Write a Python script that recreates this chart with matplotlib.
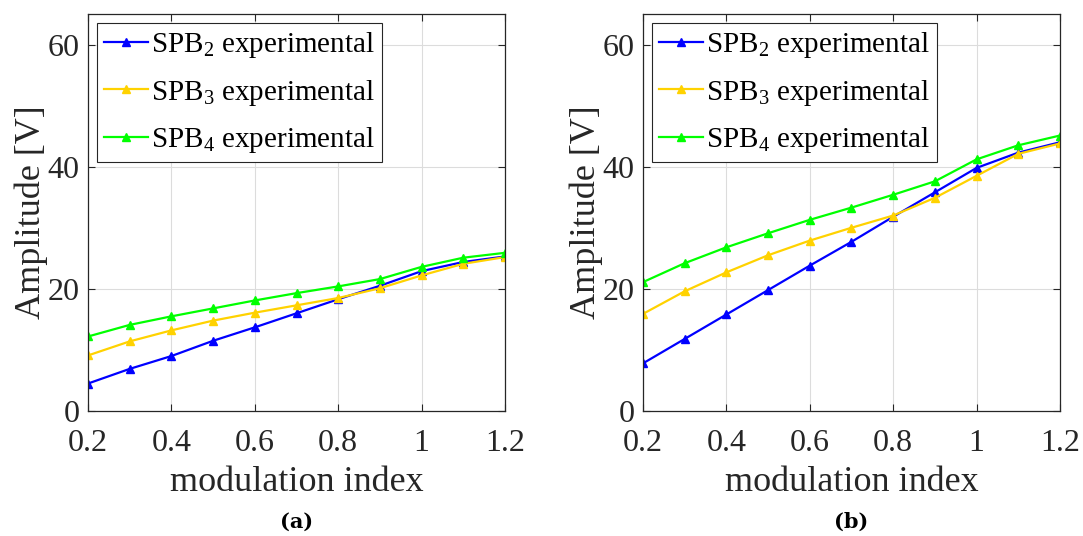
import numpy as np
import matplotlib
matplotlib.use("Agg")
import matplotlib.pyplot as plt

plt.rcParams["font.family"] = ["Liberation Serif", "DejaVu Serif"]
plt.rcParams["mathtext.fontset"] = "custom"
plt.rcParams["mathtext.rm"] = "Liberation Serif"

m = [0.2, 0.3, 0.4, 0.5, 0.6, 0.7, 0.8, 0.9, 1.0, 1.1, 1.2]

# panel (a)
spb2_a = [4.5, 6.9, 9.0, 11.5, 13.7, 16.0, 18.3, 20.5, 22.9, 24.4, 25.3]
spb3_a = [9.1, 11.4, 13.2, 14.8, 16.1, 17.3, 18.5, 20.1, 22.2, 24.1, 25.2]
spb4_a = [12.2, 14.1, 15.5, 16.8, 18.1, 19.3, 20.4, 21.6, 23.6, 25.1, 25.9]

# panel (b)
spb2_b = [7.8, 11.8, 15.8, 19.8, 23.8, 27.7, 31.8, 35.8, 39.8, 42.3, 44.0]
spb3_b = [15.9, 19.6, 22.7, 25.5, 27.9, 30.0, 32.0, 34.9, 38.5, 42.1, 43.8]
spb4_b = [21.1, 24.2, 26.8, 29.1, 31.3, 33.3, 35.4, 37.6, 41.2, 43.5, 45.1]

labels = ["SPB$_2$ experimental", "SPB$_3$ experimental", "SPB$_4$ experimental"]
colors = ["#0000ff", "#ffd200", "#00ff00"]

fig = plt.figure(figsize=(10.83, 5.36), dpi=100)
ax1 = fig.add_axes([0.0813, 0.2332, 0.385, 0.7407])
ax2 = fig.add_axes([0.5937, 0.2332, 0.385, 0.7407])

for ax, series, cap in [(ax1, [spb2_a, spb3_a, spb4_a], "(a)"),
                        (ax2, [spb2_b, spb3_b, spb4_b], "(b)")]:
    for y, c, lab in zip(series, colors, labels):
        ax.plot(m, y, "-^", color=c, lw=1.6, ms=6, label=lab)
    ax.set_xlim(0.2, 1.2)
    ax.set_ylim(0, 65)
    ax.set_xticks([0.2, 0.4, 0.6, 0.8, 1.0, 1.2])
    ax.set_xticklabels(["0.2", "0.4", "0.6", "0.8", "1", "1.2"])
    ax.set_yticks([0, 20, 40, 60])
    ax.grid(True, color="#dcdcdc", lw=0.8)
    ax.set_axisbelow(True)
    ax.tick_params(direction="in", top=True, right=True, labelsize=23,
                   length=5, width=0.8, colors="#262626", pad=6)
    ax.tick_params(axis="x", pad=13)
    for s in ax.spines.values():
        s.set_color("#262626")
        s.set_linewidth(0.9)
    ax.set_xlabel("modulation index", fontsize=26, color="#262626", labelpad=6)
    ax.set_ylabel("Amplitude [V]", fontsize=26, color="#262626", labelpad=0)
    leg = ax.legend(loc="upper left", fontsize=21, handlelength=1.5,
                    handletextpad=0.1, borderpad=0.25, labelspacing=0.6,
                    borderaxespad=0.3, fancybox=False, framealpha=1)
    leg.get_frame().set_edgecolor("#262626")
    leg.get_frame().set_linewidth(0.8)
    ax.text(0.5, -0.28, cap, transform=ax.transAxes, ha="center", va="center",
            fontsize=15, fontweight="bold", family="DejaVu Serif")

fig.savefig("out.png", dpi=100)
